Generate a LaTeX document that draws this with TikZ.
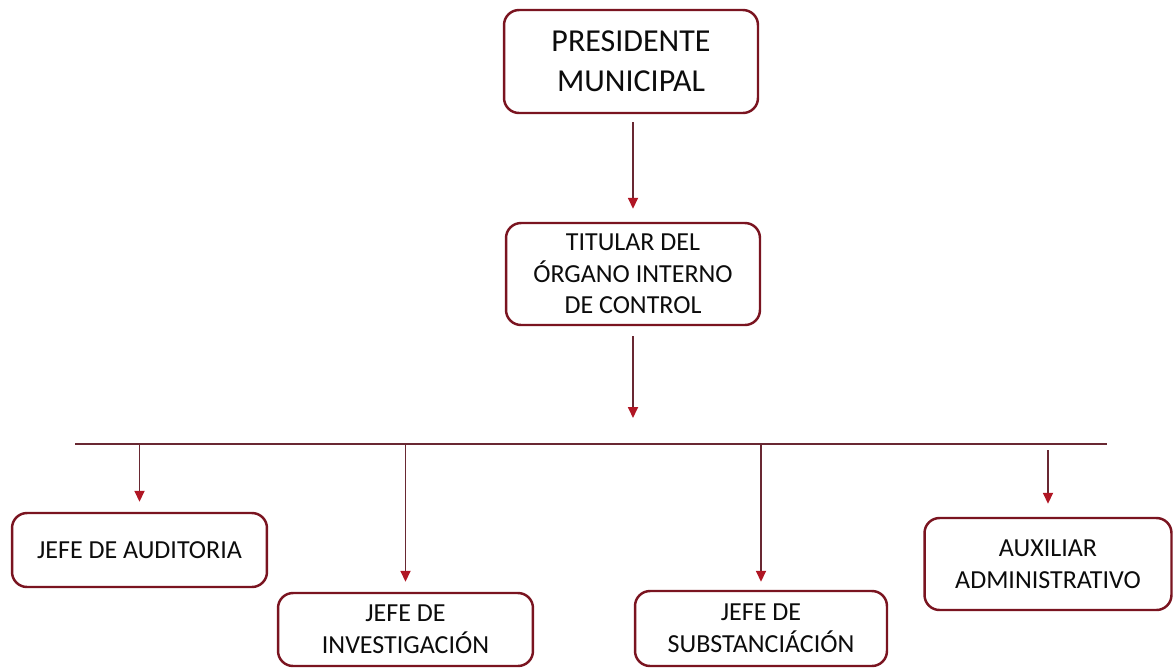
\documentclass[tikz,border=0pt]{standalone}
\usepackage{fontspec}
\setmainfont{Carlito}
\usepackage{tikz}
\usetikzlibrary{arrows.meta,positioning}
\definecolor{boxred}{RGB}{122,20,32}
\definecolor{linered}{RGB}{105,40,50}
\definecolor{tipred}{RGB}{176,22,36}
\definecolor{inktext}{RGB}{12,12,12}

\begin{document}
\begin{tikzpicture}[x=0.02cm,y=-0.02cm,
    orgbox/.style={draw=boxred,line width=1.4pt,rounded corners=0.3cm,fill=white,
      inner sep=0pt,align=center,text=inktext,font=\fontsize{14.8}{18}\selectfont},
    orgarrow/.style={draw=linered,line width=1pt,
      -{Triangle[length=0.22cm,width=0.2cm,color=tipred]}}]
        \useasboundingbox (0,0) rectangle (1174,667);
        \node[orgbox,minimum width=5.08cm,minimum height=2.06cm,
          font=\fontsize{18.2}{22.5}\selectfont] (pres) at (631,61.5) {PRESIDENTE\\MUNICIPAL};
        \node[orgbox,minimum width=5.08cm,minimum height=2.04cm] (tit) at (633,274)
          {TITULAR DEL\\ÓRGANO INTERNO\\DE CONTROL};
        \node[orgbox,minimum width=5.1cm,minimum height=1.48cm] (aud) at (139.5,550) {JEFE DE AUDITORIA};
        \node[orgbox,minimum width=5.1cm,minimum height=1.46cm] (inv) at (405.5,629.5) {JEFE DE\\INVESTIGACIÓN};
        \node[orgbox,minimum width=5.04cm,minimum height=1.5cm] (sub) at (761,628.5) {JEFE DE\\SUBSTANCIÁCIÓN};
        \node[orgbox,minimum width=4.94cm,minimum height=1.84cm] (aux) at (1048,564) {AUXILIAR\\ADMINISTRATIVO};
        % bus line
        \coordinate (busL) at (75,444);
        \coordinate (busR) at (1107,444);
        \coordinate (busIn) at (tit.south |- 0,418);
        \draw[draw=linered,line width=1pt] (busL) -- (busR);
        % arrows
        \draw[orgarrow,shorten <=0.16cm,shorten >=0.26cm] (pres.south -| tit.south) -- (tit.north);
        \draw[orgarrow,shorten <=0.2cm] (tit.south) -- (busIn);
        \draw[orgarrow,shorten >=0.2cm] (aud.north |- busL) -- (aud.north);
        \draw[orgarrow,shorten >=0.2cm] (inv.north |- busL) -- (inv.north);
        \draw[orgarrow,shorten >=0.16cm] (sub.north |- busL) -- (sub.north);
        \draw[orgarrow,shorten <=0.12cm,shorten >=0.26cm] (aux.north |- busL) -- (aux.north);
\end{tikzpicture}
\end{document}
